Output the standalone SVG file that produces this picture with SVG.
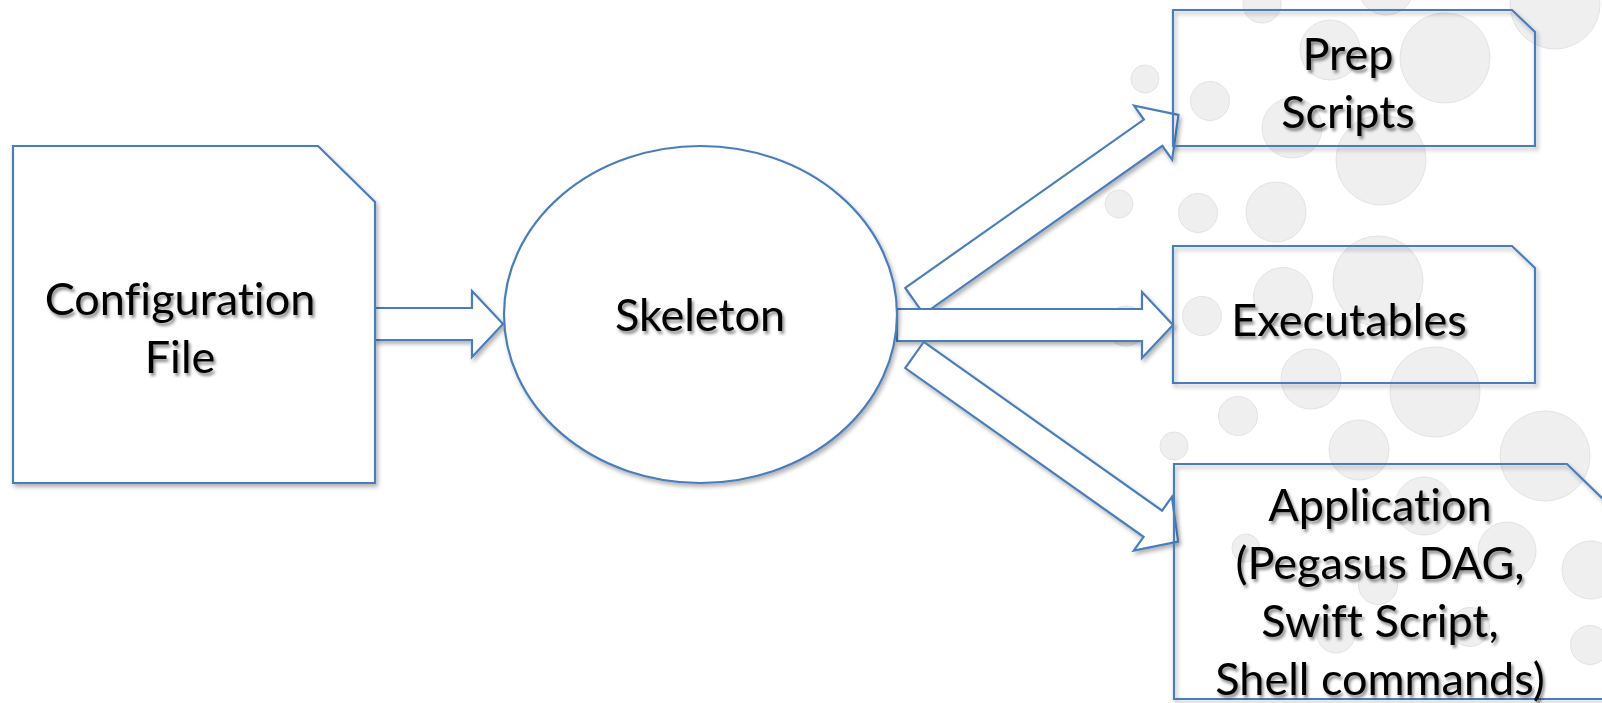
<svg xmlns="http://www.w3.org/2000/svg" width="1602" height="703" viewBox="0 0 1602 703">
  <defs>
    <style>
      .bubble { fill: #efefef; stroke: #e3e3e3; stroke-width: 1; }
      .shape { stroke: #4a7ebb; stroke-width: 2.2; stroke-linejoin: miter; }
      .open { fill: none; }
      .solid { fill: #ffffff; }
      .label { font-family: Lato, "Liberation Sans", sans-serif; font-size: 45px; fill: #000; text-anchor: middle; font-variant-ligatures: none; filter: url(#textShadow); }
    </style>
    <filter id="shapeShadow" x="-10%" y="-10%" width="130%" height="130%">
      <feDropShadow dx="2" dy="3" stdDeviation="2" flood-color="#000" flood-opacity="0.3"/>
    </filter>
    <filter id="textShadow" x="-10%" y="-20%" width="130%" height="150%">
      <feDropShadow dx="2" dy="3" stdDeviation="1.8" flood-color="#000" flood-opacity="0.45"/>
    </filter>
    <!-- block arrows point along +x with the tail at the origin; shaft 32 wide, head 66 wide, 31 long -->
  </defs>

  <rect width="1602" height="703" fill="#ffffff"/>

  <g id="background">
    <circle class="bubble" cx="1262" cy="4" r="19"/>
    <circle class="bubble" cx="1386" cy="-13" r="28"/>
    <circle class="bubble" cx="1555" cy="4" r="45"/>
    <circle class="bubble" cx="1445" cy="58" r="45"/>
    <circle class="bubble" cx="1330" cy="50" r="30"/>
    <circle class="bubble" cx="1145" cy="79" r="14"/>
    <circle class="bubble" cx="1210" cy="101" r="19.5"/>
    <circle class="bubble" cx="1292" cy="128" r="30"/>
    <circle class="bubble" cx="1381" cy="160" r="45"/>
    <circle class="bubble" cx="1119" cy="204" r="14"/>
    <circle class="bubble" cx="1198" cy="213" r="19.5"/>
    <circle class="bubble" cx="1276" cy="212" r="30"/>
    <circle class="bubble" cx="1378" cy="281" r="45"/>
    <circle class="bubble" cx="1283" cy="297" r="29.5"/>
    <circle class="bubble" cx="1202" cy="316" r="19.5"/>
    <circle class="bubble" cx="1126" cy="326" r="20"/>
    <circle class="bubble" cx="1311" cy="379" r="30"/>
    <circle class="bubble" cx="1435" cy="392" r="45"/>
    <circle class="bubble" cx="1238" cy="416" r="19.5"/>
    <circle class="bubble" cx="1174" cy="446" r="14"/>
    <circle class="bubble" cx="1359" cy="450" r="30"/>
    <circle class="bubble" cx="1545" cy="456" r="45"/>
    <circle class="bubble" cx="1424" cy="506" r="29"/>
    <circle class="bubble" cx="1246" cy="548" r="14"/>
    <circle class="bubble" cx="1507" cy="551" r="29"/>
    <circle class="bubble" cx="1591" cy="570" r="29"/>
    <circle class="bubble" cx="1378" cy="585" r="19.5"/>
    <circle class="bubble" cx="1470" cy="627" r="19.5"/>
    <circle class="bubble" cx="1336" cy="634" r="19"/>
    <circle class="bubble" cx="1590" cy="645" r="19.5"/>
  </g>

  <g id="connectors" filter="url(#shapeShadow)">
    <!-- configuration file to skeleton -->
    <polygon class="shape solid" transform="translate(375,324)" points="0,-16 97,-16 97,-33 128,0 97,33 97,16 0,16"/>
    <!-- skeleton to prep scripts -->
    <polygon class="shape solid" transform="translate(914.5,301) rotate(-35.2)" points="0,-16 292,-16 292,-33 323,0 292,33 292,16 0,16"/>
    <!-- skeleton to application -->
    <polygon class="shape solid" transform="translate(914.5,355) rotate(35.3)" points="0,-16 292,-16 292,-33 323,0 292,33 292,16 0,16"/>
    <!-- skeleton to executables -->
    <polygon class="shape solid" transform="translate(897,325)" points="0,-16 245,-16 245,-33 276,0 245,33 245,16 0,16"/>
  </g>

  <g id="config-file">
    <path class="shape solid" filter="url(#shapeShadow)" d="M13,146 H318 L375,202 V483 H13 Z"/>
    <text class="label" x="180" y="315">Configuration</text>
    <text class="label" x="180" y="373">File</text>
  </g>

  <g id="skeleton">
    <ellipse class="shape solid" filter="url(#shapeShadow)" cx="700.5" cy="314.5" rx="196.5" ry="168.5"/>
    <text class="label" x="700" y="331">Skeleton</text>
  </g>

  <g id="prep-scripts">
    <path class="shape open" filter="url(#shapeShadow)" d="M1173,10 H1512 L1535,32 V146 H1173 Z"/>
    <text class="label" x="1348" y="70">Prep</text>
    <text class="label" x="1348" y="128">Scripts</text>
  </g>

  <g id="executables">
    <path class="shape open" filter="url(#shapeShadow)" d="M1173,246 H1512 L1535,268 V383 H1173 Z"/>
    <text class="label" x="1349" y="336">Executables</text>
  </g>

  <g id="application">
    <path class="shape open" filter="url(#shapeShadow)" d="M1174,464 H1567 L1640,535 V699 H1174 Z"/>
    <text class="label" x="1380" y="521">Application</text>
    <text class="label" x="1380" y="579">(Pegasus DAG,</text>
    <text class="label" x="1380" y="637">Swift Script,</text>
    <text class="label" x="1380" y="695">Shell commands)</text>
  </g>
</svg>
